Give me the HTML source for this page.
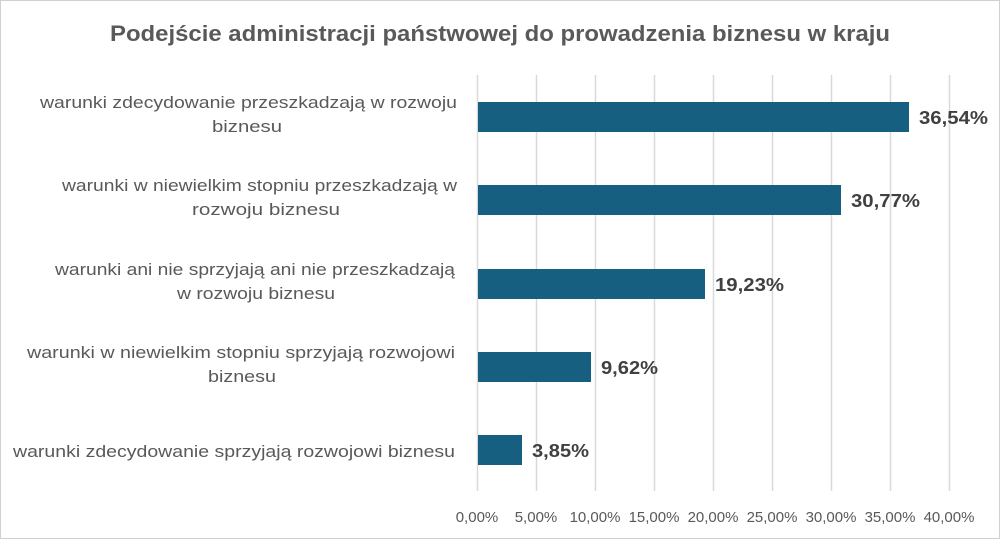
<!DOCTYPE html><html><head><style>body{margin:0;background:#fff}</style></head><body>
<svg width="1000" height="539" xmlns="http://www.w3.org/2000/svg" font-family="Liberation Sans, sans-serif">
<rect x="0.5" y="0.5" width="999" height="538" fill="#fff" stroke="#d0d0d0"/>
<text x="110" y="41" textLength="780" lengthAdjust="spacingAndGlyphs" font-size="22" font-weight="bold" fill="#595959">Podejście administracji  państwowej do prowadzenia biznesu w kraju</text>
<g stroke="#d9d9d9" stroke-width="1.5">
<line x1="477.5" y1="75" x2="477.5" y2="491"/><line x1="536.5" y1="75" x2="536.5" y2="491"/><line x1="595.5" y1="75" x2="595.5" y2="491"/><line x1="654.5" y1="75" x2="654.5" y2="491"/><line x1="713.5" y1="75" x2="713.5" y2="491"/><line x1="772.5" y1="75" x2="772.5" y2="491"/><line x1="831.5" y1="75" x2="831.5" y2="491"/><line x1="890.5" y1="75" x2="890.5" y2="491"/><line x1="949.5" y1="75" x2="949.5" y2="491"/>
</g>
<g fill="#175f80">
<rect x="478" y="102" width="431" height="30"/>
<rect x="478" y="185" width="363" height="30"/>
<rect x="478" y="269" width="227" height="30"/>
<rect x="478" y="352" width="113" height="30"/>
<rect x="478" y="435" width="44" height="30"/>
</g>
<g font-size="18" font-weight="bold" fill="#404040">
<text x="919" y="124" textLength="69" lengthAdjust="spacingAndGlyphs">36,54%</text><text x="851" y="207" textLength="69" lengthAdjust="spacingAndGlyphs">30,77%</text><text x="715" y="291" textLength="69" lengthAdjust="spacingAndGlyphs">19,23%</text><text x="601" y="374" textLength="57" lengthAdjust="spacingAndGlyphs">9,62%</text><text x="532" y="457" textLength="57" lengthAdjust="spacingAndGlyphs">3,85%</text>
</g>
<g font-size="17" fill="#595959">
<text x="40" y="108" textLength="417" lengthAdjust="spacingAndGlyphs">warunki zdecydowanie przeszkadzają w rozwoju</text><text x="212" y="132" textLength="70" lengthAdjust="spacingAndGlyphs">biznesu</text>
<text x="62" y="191" textLength="395" lengthAdjust="spacingAndGlyphs">warunki w niewielkim stopniu przeszkadzają w</text><text x="192" y="215" textLength="148" lengthAdjust="spacingAndGlyphs">rozwoju biznesu</text>
<text x="55" y="275" textLength="400" lengthAdjust="spacingAndGlyphs">warunki ani nie sprzyjają ani nie przeszkadzają</text><text x="177" y="299" textLength="158" lengthAdjust="spacingAndGlyphs">w rozwoju biznesu</text>
<text x="27" y="358" textLength="428" lengthAdjust="spacingAndGlyphs">warunki w niewielkim stopniu sprzyjają rozwojowi</text><text x="208" y="382" textLength="68" lengthAdjust="spacingAndGlyphs">biznesu</text>
<text x="13" y="457" textLength="442" lengthAdjust="spacingAndGlyphs">warunki zdecydowanie sprzyjają rozwojowi biznesu</text>
</g>
<g font-size="15" fill="#595959" text-anchor="middle">
<text x="477" y="522">0,00%</text><text x="536" y="522">5,00%</text><text x="595" y="522">10,00%</text><text x="654" y="522">15,00%</text><text x="713" y="522">20,00%</text><text x="772" y="522">25,00%</text><text x="831" y="522">30,00%</text><text x="890" y="522">35,00%</text><text x="949" y="522">40,00%</text>
</g>
</svg></body></html>
